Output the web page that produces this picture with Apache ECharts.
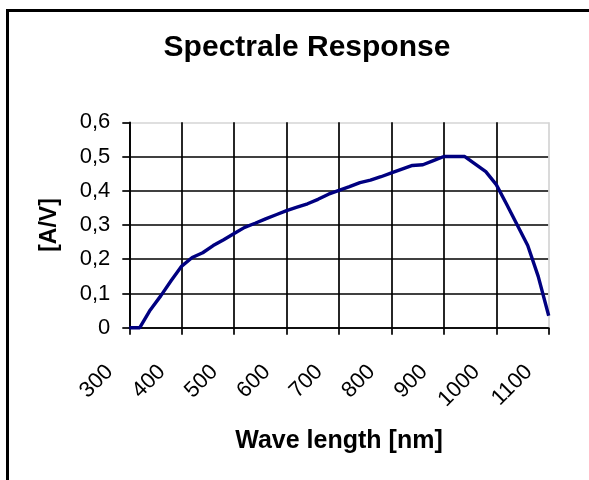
<!DOCTYPE html>
<html>
<head>
<meta charset="utf-8">
<script src="https://cdn.jsdelivr.net/npm/echarts@6/dist/echarts.min.js"></script>
<style>
  html, body { margin: 0; padding: 0; background: #fff; }
  #wrap { position: relative; width: 589px; height: 480px; overflow: hidden; }
  #frame { position: absolute; left: 6px; top: 9px; width: 700px; height: 600px; border-left: 3px solid #000; border-top: 3px solid #000; }
  #chart { position: absolute; left: 0; top: 0; width: 589px; height: 480px; }
</style>
</head>
<body>
<div id="wrap">
  <div id="frame"></div>
  <div id="chart"></div>
</div>
<script>
const wavelengths = [300, 320, 340, 360, 380, 400, 420, 440, 460, 480, 500, 520, 540, 560, 580, 600, 620, 640, 660, 680, 700, 720, 740, 760, 780, 800, 820, 840, 860, 880, 900, 920, 940, 960, 980, 1000, 1020, 1040, 1060, 1080, 1100];
const response = [0, 0, 0.052, 0.093, 0.138, 0.180, 0.205, 0.219, 0.240, 0.257, 0.275, 0.293, 0.305, 0.318, 0.330, 0.342, 0.352, 0.362, 0.375, 0.390, 0.401, 0.412, 0.424, 0.431, 0.441, 0.452, 0.463, 0.474, 0.476, 0.488, 0.500, 0.500, 0.500, 0.478, 0.456, 0.418, 0.360, 0.300, 0.240, 0.150, 0.035];
const xTickLabels = ['300', '400', '500', '600', '700', '800', '900', '1000', '1100'];
const yTickLabels = ['0', '0,1', '0,2', '0,3', '0,4', '0,5', '0,6'];

const FONT = 'Liberation Sans, Arial, sans-serif';
const chart = echarts.init(document.getElementById('chart'), null, { renderer: 'canvas' });
const xGridColors = xTickLabels.map((_, i) => i === xTickLabels.length - 1 ? '#d4d4d4' : '#000');
const yGridColors = yTickLabels.map((_, i) => i === yTickLabels.length - 1 ? '#d4d4d4' : '#000');

chart.setOption({
  animation: false,
  backgroundColor: 'transparent',
  title: {
    text: 'Spectrale Response',
    left: 302,
    top: 28,
    textAlign: 'center',
    textStyle: { fontFamily: FONT, fontWeight: 'bold', fontSize: 30, color: '#000' }
  },
  grid: { left: 129.3, right: 40.3, top: 122.3, bottom: 152.3, containLabel: false },
  xAxis: {
    type: 'value',
    min: 300, max: 1100, interval: 100,
    name: 'Wave length [nm]',
    nameLocation: 'middle',
    nameGap: 101,
    nameTextStyle: { fontFamily: FONT, fontWeight: 'bold', fontSize: 25, color: '#000' },
    axisLine: { show: true, lineStyle: { color: '#000', width: 1.7 } },
    axisTick: { show: true, inside: false, length: 7, lineStyle: { color: '#000', width: 1.7 } },
    splitLine: { show: true, lineStyle: { color: xGridColors, width: 1.7 } },
    axisLabel: {
      rotate: 45,
      margin: 21,
      padding: [0, 28, 0, 0],
      fontFamily: FONT, fontSize: 22, color: '#000',
      formatter: (v, i) => xTickLabels[i]
    }
  },
  yAxis: {
    type: 'value',
    min: 0, max: 0.6, interval: 0.1,
    name: '[A/V]',
    nameLocation: 'middle',
    nameRotate: 90,
    nameGap: 68,
    nameTextStyle: { fontFamily: FONT, fontWeight: 'bold', fontSize: 23, color: '#000' },
    axisLine: { show: true, lineStyle: { color: '#000', width: 1.7 } },
    axisTick: { show: true, inside: false, length: 7, lineStyle: { color: '#000', width: 1.7 } },
    splitLine: { show: true, lineStyle: { color: yGridColors, width: 1.7 } },
    axisLabel: {
      margin: 19,
      fontFamily: FONT, fontSize: 22, color: '#000',
      formatter: (v, i) => yTickLabels[i]
    }
  },
  series: [{
    type: 'line',
    data: wavelengths.map((w, i) => [w, response[i]]),
    showSymbol: false,
    symbol: 'none',
    clip: false,
    lineStyle: { color: '#000080', width: 3.4 },
    z: 5
  }]
});
</script>
</body>
</html>
